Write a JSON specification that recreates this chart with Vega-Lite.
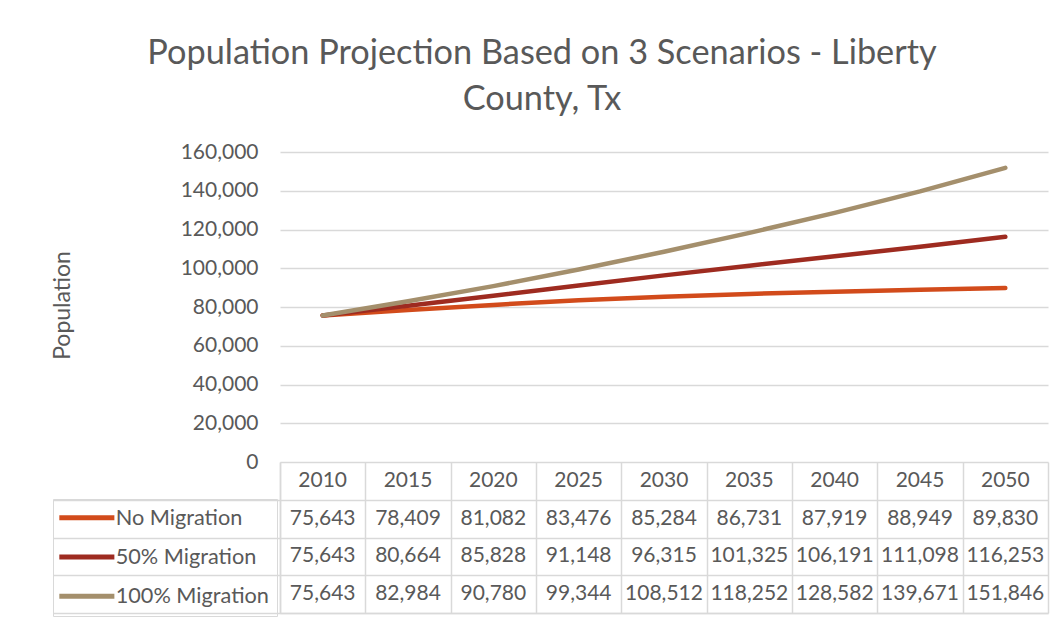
{
  "$schema": "https://vega.github.io/schema/vega-lite/v6.json",
  "width": 768,
  "height": 461,
  "autosize": {"type": "none"},
  "padding": {"left": 280, "top": 152, "right": 16, "bottom": 9},
  "background": "white",
  "config": {"font": "Lato", "view": {"stroke": null}},
  "title": {
    "text": ["Population Projection Based on 3 Scenarios - Liberty", "County, Tx"],
    "fontSize": 34.3,
    "font": "Lato",
    "fontWeight": "normal",
    "color": "#595959",
    "anchor": "middle",
    "frame": "group",
    "dx": -122,
    "offset": 24,
    "lineHeight": 46
  },
  "datasets": {
    "pop": [
      {"year": 2010, "scenario": "No Migration", "population": 75643},
      {"year": 2015, "scenario": "No Migration", "population": 78409},
      {"year": 2020, "scenario": "No Migration", "population": 81082},
      {"year": 2025, "scenario": "No Migration", "population": 83476},
      {"year": 2030, "scenario": "No Migration", "population": 85284},
      {"year": 2035, "scenario": "No Migration", "population": 86731},
      {"year": 2040, "scenario": "No Migration", "population": 87919},
      {"year": 2045, "scenario": "No Migration", "population": 88949},
      {"year": 2050, "scenario": "No Migration", "population": 89830},
      {"year": 2010, "scenario": "50% Migration", "population": 75643},
      {"year": 2015, "scenario": "50% Migration", "population": 80664},
      {"year": 2020, "scenario": "50% Migration", "population": 85828},
      {"year": 2025, "scenario": "50% Migration", "population": 91148},
      {"year": 2030, "scenario": "50% Migration", "population": 96315},
      {"year": 2035, "scenario": "50% Migration", "population": 101325},
      {"year": 2040, "scenario": "50% Migration", "population": 106191},
      {"year": 2045, "scenario": "50% Migration", "population": 111098},
      {"year": 2050, "scenario": "50% Migration", "population": 116253},
      {"year": 2010, "scenario": "100% Migration", "population": 75643},
      {"year": 2015, "scenario": "100% Migration", "population": 82984},
      {"year": 2020, "scenario": "100% Migration", "population": 90780},
      {"year": 2025, "scenario": "100% Migration", "population": 99344},
      {"year": 2030, "scenario": "100% Migration", "population": 108512},
      {"year": 2035, "scenario": "100% Migration", "population": 118252},
      {"year": 2040, "scenario": "100% Migration", "population": 128582},
      {"year": 2045, "scenario": "100% Migration", "population": 139671},
      {"year": 2050, "scenario": "100% Migration", "population": 151846}
    ]
  },
  "layer": [
    {
      "data": {"name": "pop"},
      "mark": {"type": "line", "strokeWidth": 4.5, "strokeCap": "round", "strokeJoin": "round"},
      "encoding": {
        "x": {
          "field": "year", "type": "ordinal",
          "scale": {"type": "band", "paddingInner": 0, "paddingOuter": 0},
          "axis": {"orient": "bottom", "title": null, "labels": false, "domain": true, "domainColor": "#d9d9d9", "domainWidth": 1.5, "ticks": true, "tickBand": "extent", "tickSize": -151, "tickColor": "#d9d9d9", "tickWidth": 1.5, "grid": false}
        },
        "y": {
          "field": "population", "type": "quantitative",
          "scale": {"domain": [0, 160000], "range": [310, 0], "nice": false, "zero": true},
          "axis": {
            "orient": "left",
            "values": [0, 20000, 40000, 60000, 80000, 100000, 120000, 140000, 160000],
            "format": ",.0f",
            "labelFontSize": 21, "labelColor": "#595959", "labelPadding": 22, "labelFont": "Lato",
            "ticks": false, "domain": false,
            "grid": true, "gridColor": "#d9d9d9", "gridWidth": 1.5,
            "title": "Population", "titleFontSize": 23, "titleFontWeight": "normal", "titleColor": "#595959", "titleFont": "Lato",
            "titleX": -218, "titleY": 153, "titleAngle": -90, "titleAlign": "center", "titleBaseline": "middle"
          }
        },
        "color": {
          "field": "scenario", "type": "nominal",
          "scale": {"domain": ["No Migration", "50% Migration", "100% Migration"], "range": ["#D24B1B", "#9E2B20", "#A48F6C"]},
          "legend": {
            "orient": "none", "legendX": -227, "legendY": 347, "title": null,
            "symbolType": "M-3.67,0H3.67", "symbolSize": 225, "symbolStrokeWidth": 5, "symbolOffset": 15,
            "labelFontSize": 21.7, "labelColor": "#595959", "labelFont": "Lato", "labelOffset": 18,
            "strokeColor": "#d9d9d9", "padding": 8, "rowPadding": 16.2
          }
        }
      }
    },
    {
      "layer": [
        {
          "data": {"name": "pop"},
          "mark": {"type": "text", "fontSize": 21, "color": "#595959", "font": "Lato"},
          "encoding": {
            "x": {"field": "year", "type": "ordinal"},
            "y": {
              "field": "scenario", "type": "nominal",
              "scale": {"type": "band", "domain": ["header", "No Migration", "50% Migration", "100% Migration"], "range": [310, 461], "paddingInner": 0, "paddingOuter": 0},
              "axis": {
                "orient": "left", "title": null, "labels": false,
                "values": ["No Migration", "50% Migration", "100% Migration"],
                "domain": true, "domainColor": "#d9d9d9", "domainWidth": 1.5,
                "ticks": true, "tickBand": "extent", "tickSize": 227, "tickWidth": 1.5, "tickColor": "#d9d9d9",
                "grid": true, "gridColor": "#d9d9d9", "gridWidth": 1.5
              }
            },
            "text": {"field": "population", "type": "quantitative", "format": ","}
          }
        },
        {
          "data": {"name": "pop"},
          "transform": [{"aggregate": [{"op": "count", "as": "n"}], "groupby": ["year"]}],
          "mark": {"type": "text", "fontSize": 21, "color": "#595959", "font": "Lato"},
          "encoding": {
            "x": {"field": "year", "type": "ordinal"},
            "y": {"datum": "header", "type": "nominal"},
            "text": {"field": "year", "type": "ordinal"}
          }
        }
      ]
    }
  ],
  "resolve": {"scale": {"y": "independent"}, "axis": {"y": "independent"}}
}
